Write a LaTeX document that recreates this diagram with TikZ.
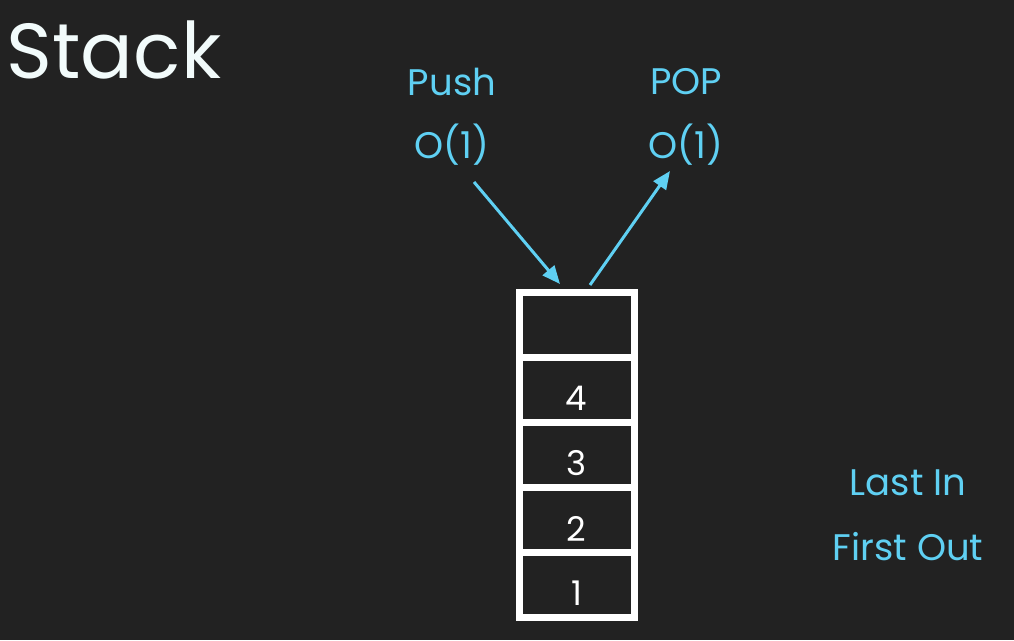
\documentclass[tikz,border=0pt]{standalone}
\usepackage{fontspec}
\setmainfont{Poppins}
\usetikzlibrary{arrows.meta}
\definecolor{bg}{HTML}{222222}
\definecolor{cy}{HTML}{5FD0F3}
\definecolor{wt}{HTML}{F2FBFB}
\tikzset{
  cyantext/.style={text=cy, font=\fontsize{37}{44}\selectfont, inner sep=0pt},
  cell/.style={draw=white, line width=7pt, minimum width=115pt, minimum height=65pt, inner sep=0pt},
  num/.style={text=white, font=\fontsize{34}{40}\selectfont, inner sep=0pt, yshift=-9pt},
  arr/.style={draw=cy, line width=3pt, -{Triangle[length=18pt,width=15pt]}}
}
\begin{document}
\begin{tikzpicture}[x=1pt,y=-1pt]
\fill[bg] (0,0) rectangle (1014,640);
\useasboundingbox (0,0) rectangle (1014,640);
\node[text=wt, font=\fontsize{78}{90}\selectfont, inner sep=0pt] (title) at (114,50) {Stack};
\node[cyantext] (push) at (452,82) {Push};
\node[cyantext] (pusho) at (452,145) {O(1)};
\node[cyantext] (pop) at (686,82) {POP};
\node[cyantext] (popo) at (686,145) {O(1)};
\node[cyantext] (lifo1) at (908,483) {Last In};
\node[cyantext] (lifo2) at (908,547) {First Out};
\node[cell] (c5) at (576.5,324.5) {};
\node[cell, label={[num]center:4}] (c4) at (576.5,389.5) {};
\node[cell, label={[num]center:3}] (c3) at (576.5,454.5) {};
\node[cell, label={[num]center:2}] (c2) at (576.5,519.5) {};
\node[cell, label={[num]center:1}] (c1) at (576.5,584.5) {};
\coordinate (pushs) at (474,182);
\coordinate (pushe) at (560,284);
\coordinate (pops) at (590,285);
\coordinate (pope) at (670,171);
\draw[arr] (pushs) -- (pushe);
\draw[arr] (pops) -- (pope);
\end{tikzpicture}
\end{document}
